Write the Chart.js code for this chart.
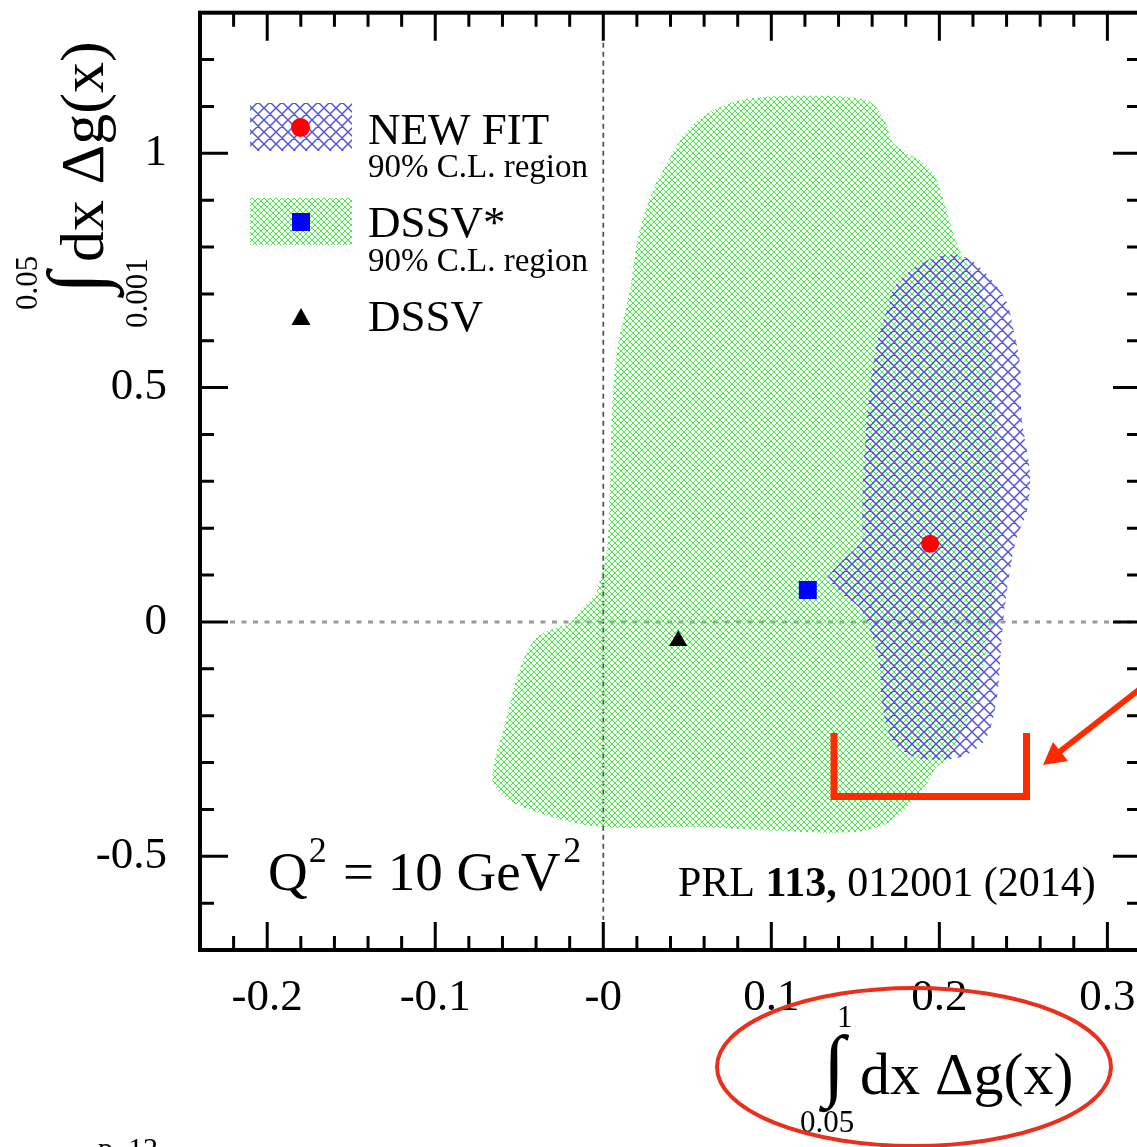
<!DOCTYPE html>
<html>
<head>
<meta charset="utf-8">
<script src="https://cdn.jsdelivr.net/npm/chart.js@4.4.0/dist/chart.umd.min.js"></script>
<style>
  html, body { margin: 0; padding: 0; background: #fff; overflow: hidden; }
  #wrap { width: 1160px; height: 1147px; }
</style>
</head>
<body>
<div id="wrap"><canvas id="chart" width="1160" height="1147"></canvas></div>
<script>
// axis ticks
const xTickValues = [-0.2, -0.1, 0, 0.1, 0.2, 0.3];
const xTickLabels = ['-0.2', '-0.1', '-0', '0.1', '0.2', '0.3'];
const yTickValues = [-0.5, 0, 0.5, 1];
const yTickLabels = ['-0.5', '0', '0.5', '1'];

const seriesNames = ['NEW FIT', 'DSSV*', 'DSSV'];
const regionNote = '90% C.L. region';

// central values
const newFitX = [0.1945];
const newFitY = [0.167];
const dssvStarX = [0.1217];
const dssvStarY = [0.068];
const dssvX = [0.0446];
const dssvY = [-0.040];

// 90% C.L. contours
const newFitRegionX = [0.133, 0.142, 0.154, 0.154, 0.155, 0.158, 0.163, 0.169, 0.174, 0.188, 0.204, 0.218, 0.232, 0.240, 0.244, 0.248, 0.249, 0.254, 0.252, 0.246, 0.242, 0.238, 0.234, 0.227, 0.212, 0.186, 0.172, 0.166, 0.164, 0.154, 0.142];
const newFitRegionY = [0.094, 0.130, 0.172, 0.209, 0.336, 0.477, 0.598, 0.668, 0.719, 0.762, 0.783, 0.774, 0.726, 0.683, 0.626, 0.549, 0.434, 0.315, 0.236, 0.179, 0.109, 0.002, -0.168, -0.253, -0.289, -0.289, -0.253, -0.174, -0.083, 0.023, 0.060];

const dssvStarRegionX = [-0.004, 0.002, 0.004, 0.005, 0.008, 0.016, 0.021, 0.029, 0.039, 0.049, 0.063, 0.083, 0.117, 0.157, 0.168, 0.172, 0.180, 0.190, 0.196, 0.199, 0.204, 0.208, 0.212, 0.227, 0.233, 0.236, 0.233, 0.221, 0.206, 0.198, 0.194, 0.184, 0.169, 0.148, 0.099, 0.059, -0.001, -0.030, -0.056, -0.066, -0.058, -0.050, -0.040, -0.020];
const dssvStarRegionY = [0.062, 0.151, 0.294, 0.434, 0.577, 0.711, 0.826, 0.917, 0.987, 1.045, 1.087, 1.115, 1.123, 1.113, 1.066, 1.024, 1.002, 0.981, 0.960, 0.938, 0.881, 0.834, 0.794, 0.683, 0.470, 0.257, 0.045, -0.168, -0.289, -0.311, -0.338, -0.381, -0.430, -0.449, -0.445, -0.438, -0.438, -0.417, -0.381, -0.338, -0.211, -0.104, -0.034, -0.002];

const serif = '"Liberation Serif", "Times New Roman", serif';
const canvas = document.getElementById('chart');
const ctx0 = canvas.getContext('2d');

// cross-hatch fill like the original plot
function hatch(size, color, width) {
    const c = document.createElement('canvas');
    c.width = size;
    c.height = size;
    const g = c.getContext('2d');
    g.strokeStyle = color;
    g.lineWidth = width;
    g.beginPath();
    for (const o of [-size, 0, size]) {
        g.moveTo(o, 0); g.lineTo(o + size, size);
        g.moveTo(o + size, 0); g.lineTo(o, size);
    }
    g.stroke();
    return ctx0.createPattern(c, 'repeat');
}
const greenHatch = hatch(6, 'rgb(70,238,70)', 1);
const blueHatch = hatch(12, 'rgba(65,65,225,0.9)', 1.5);

const pts = (xs, ys) => xs.map((x, i) => ({ x, y: ys[i] }));

function integralTitle(ctx, ox, oy, rot, upper, lower, body, lay) {
    ctx.save();
    ctx.translate(ox, oy);
    ctx.rotate(rot);
    ctx.fillStyle = '#000';
    ctx.textAlign = 'left';
    ctx.textBaseline = 'alphabetic';
    ctx.font = `80px ${serif}`;
    ctx.fillText('\u222B', lay.intX, lay.intY);
    ctx.font = `31px ${serif}`;
    ctx.fillText(upper, lay.upX, lay.upY);
    ctx.fillText(lower, lay.loX, lay.loY);
    ctx.font = `${lay.size}px ${serif}`;
    ctx.fillText(body, lay.bodyX, 0);
    ctx.restore();
}

const decor = {
    id: 'decor',
    beforeDatasetsDraw(chart) {
        const { ctx, chartArea: a, scales: { x, y } } = chart;
        ctx.save();
        ctx.strokeStyle = '#9a9a9a';
        ctx.lineWidth = 3;
        ctx.setLineDash([5, 6.5]);
        const py = y.getPixelForValue(0);
        ctx.beginPath(); ctx.moveTo(a.left + 30, py); ctx.lineTo(a.right, py); ctx.stroke();
        ctx.strokeStyle = '#555';
        ctx.lineWidth = 1.8;
        ctx.setLineDash([5, 4]);
        const px = x.getPixelForValue(0);
        ctx.beginPath(); ctx.moveTo(px, a.top + 30); ctx.lineTo(px, a.bottom - 30); ctx.stroke();
        ctx.restore();
    },
    afterDatasetsDraw(chart) {
        const { ctx, chartArea: a, scales: { x, y } } = chart;
        ctx.save();

        // frame and inward ticks
        ctx.strokeStyle = '#000';
        ctx.lineWidth = 4;
        ctx.strokeRect(a.left, a.top, a.width, a.height);
        ctx.lineWidth = 3;
        ctx.beginPath();
        for (let k = -11; k <= 15; k++) {
            const px = x.getPixelForValue(k * 0.02);
            const len = k % 5 === 0 ? 28 : 14;
            ctx.moveTo(px, a.bottom); ctx.lineTo(px, a.bottom - len);
            ctx.moveTo(px, a.top); ctx.lineTo(px, a.top + len);
        }
        for (let k = -6; k <= 12; k++) {
            const py = y.getPixelForValue(k * 0.1);
            const len = k % 5 === 0 ? 28 : 14;
            ctx.moveTo(a.left, py); ctx.lineTo(a.left + len, py);
            ctx.moveTo(a.right, py); ctx.lineTo(a.right - len, py);
        }
        ctx.stroke();

        // legend
        ctx.fillStyle = blueHatch;
        ctx.fillRect(250, 103, 102, 48);
        ctx.fillStyle = greenHatch;
        ctx.fillRect(250, 198, 102, 47);
        ctx.fillStyle = '#ff0000';
        ctx.beginPath(); ctx.arc(300.5, 127.5, 9.5, 0, Math.PI * 2); ctx.fill();
        ctx.fillStyle = '#0000ff';
        ctx.fillRect(292, 213, 18, 18);
        ctx.fillStyle = '#000';
        ctx.beginPath(); ctx.moveTo(301, 308); ctx.lineTo(310.5, 325); ctx.lineTo(291.5, 325); ctx.closePath(); ctx.fill();

        ctx.textAlign = 'left';
        ctx.textBaseline = 'alphabetic';
        ctx.font = `45px ${serif}`;
        ctx.fillText(seriesNames[0], 368, 144);
        ctx.fillText(seriesNames[1], 368, 237);
        ctx.fillText(seriesNames[2], 368, 331);
        ctx.font = `33px ${serif}`;
        ctx.fillText(regionNote, 368, 177);
        ctx.fillText(regionNote, 368, 271);

        // Q^2 note
        ctx.font = `55px ${serif}`;
        ctx.fillText('Q', 268, 890);
        const qw = ctx.measureText('Q').width;
        ctx.fillText('= 10 GeV', 343, 890);
        const gw = ctx.measureText('= 10 GeV').width;
        ctx.font = `36px ${serif}`;
        ctx.fillText('2', 268 + qw + 1, 862);
        ctx.fillText('2', 343 + gw + 3, 862);

        // reference
        ctx.font = `42px ${serif}`;
        let tx = 678;
        ctx.fillText('PRL ', tx, 896);
        tx += ctx.measureText('PRL ').width;
        ctx.font = `bold 42px ${serif}`;
        ctx.fillText('113,', tx, 896);
        tx += ctx.measureText('113,').width;
        ctx.font = `42px ${serif}`;
        ctx.fillText(' 012001 (2014)', tx, 896);

        // axis titles
        integralTitle(ctx, 823, 1094, 0, '1', '0.05', 'dx \u0394g(x)',
            { intX: 0, intY: -3, upX: 14, upY: -67, loX: -23, loY: 38, bodyX: 37, size: 60 });
        integralTitle(ctx, 103, 300, -Math.PI / 2, '0.05', '0.001', 'dx \u0394g(x)',
            { intX: 6, intY: 0, upX: -10, upY: -66, loX: -28, loY: 44, bodyX: 38, size: 62 });

        // slide page number
        ctx.font = `30px ${serif}`;
        ctx.fillText('p. 12', 98, 1158);

        // red slide annotations
        ctx.strokeStyle = '#e8301c';
        ctx.lineWidth = 4;
        ctx.beginPath(); ctx.ellipse(914, 1067, 197, 79, 0, 0, Math.PI * 2); ctx.stroke();
        ctx.strokeStyle = '#ff2a00';
        ctx.fillStyle = '#ff2a00';
        ctx.lineWidth = 7;
        ctx.lineJoin = 'miter';
        ctx.beginPath();
        ctx.moveTo(834, 733); ctx.lineTo(834, 796.5); ctx.lineTo(1026.5, 796.5); ctx.lineTo(1026.5, 733);
        ctx.stroke();
        ctx.lineWidth = 6;
        ctx.beginPath(); ctx.moveTo(1145, 685); ctx.lineTo(1058, 753); ctx.stroke();
        ctx.beginPath(); ctx.moveTo(1043, 765); ctx.lineTo(1068, 761); ctx.lineTo(1053, 742); ctx.closePath(); ctx.fill();

        ctx.restore();
    }
};

new Chart(canvas, {
    type: 'scatter',
    data: {
        datasets: [
            { label: seriesNames[0], data: pts(newFitX, newFitY), pointStyle: 'circle', pointRadius: 9, backgroundColor: '#ff0000', borderWidth: 0 },
            { label: seriesNames[1], data: pts(dssvStarX, dssvStarY), pointStyle: 'rect', pointRadius: 12.7, backgroundColor: '#0000ff', borderWidth: 0 },
            { label: seriesNames[2], data: pts(dssvX, dssvY), pointStyle: 'triangle', pointRadius: 10.5, backgroundColor: '#000', borderWidth: 0 },
            { label: seriesNames[0] + ' region', data: pts(newFitRegionX, newFitRegionY), showLine: true, fill: 'shape', tension: 0.3,
              pointRadius: 0, borderWidth: 0, borderColor: 'rgba(0,0,0,0)', backgroundColor: blueHatch },
            { label: seriesNames[1] + ' region', data: pts(dssvStarRegionX, dssvStarRegionY), showLine: true, fill: 'shape', tension: 0.3,
              pointRadius: 0, borderWidth: 0, borderColor: 'rgba(0,0,0,0)', backgroundColor: greenHatch }
        ]
    },
    options: {
        responsive: false,
        animation: false,
        events: [],
        layout: { padding: { top: 10, right: 19, left: 0, bottom: 0 } },
        plugins: { legend: { display: false }, tooltip: { enabled: false } },
        scales: {
            x: {
                min: -0.24, max: 0.32,
                afterBuildTicks: s => { s.ticks = xTickValues.map(v => ({ value: v })); },
                afterFit: s => { s.height = 197; s.paddingLeft = 0; s.paddingRight = 0; },
                grid: { display: false, drawTicks: false },
                border: { display: false },
                ticks: {
                    autoSkip: false, maxRotation: 0, padding: 21, color: '#000',
                    font: { family: serif, size: 45 },
                    callback: v => { const i = xTickValues.findIndex(t => Math.abs(t - v) < 1e-9); return i < 0 ? '' : xTickLabels[i]; }
                }
            },
            y: {
                min: -0.7, max: 1.3,
                afterBuildTicks: s => { s.ticks = yTickValues.map(v => ({ value: v })); },
                afterFit: s => { s.width = 200; s.paddingTop = 0; s.paddingBottom = 0; },
                grid: { display: false, drawTicks: false },
                border: { display: false },
                ticks: {
                    autoSkip: false, padding: 33, color: '#000',
                    font: { family: serif, size: 45 },
                    callback: v => { const i = yTickValues.findIndex(t => Math.abs(t - v) < 1e-9); return i < 0 ? '' : yTickLabels[i]; }
                }
            }
        }
    },
    plugins: [decor]
});
</script>
</body>
</html>
